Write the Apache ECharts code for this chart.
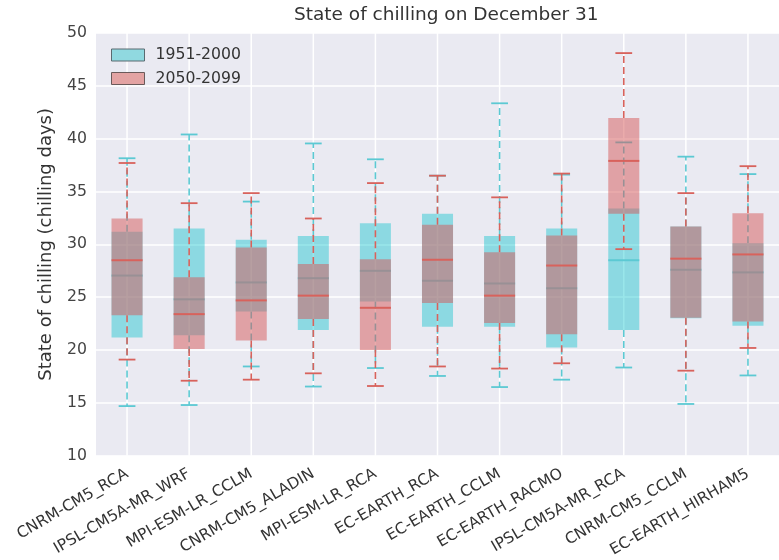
<!DOCTYPE html>
<html>
<head>
<meta charset="utf-8">
<script src="https://cdn.jsdelivr.net/npm/echarts@6/dist/echarts.min.js"></script>
<style>html,body{margin:0;padding:0;background:#fff;}#c{width:779px;height:560px;}</style>
</head>
<body>
<div id="c"></div>
<script>
const categories = ['CNRM-CM5_RCA','IPSL-CM5A-MR_WRF','MPI-ESM-LR_CCLM','CNRM-CM5_ALADIN','MPI-ESM-LR_RCA','EC-EARTH_RCA','EC-EARTH_CCLM','EC-EARTH_RACMO','IPSL-CM5A-MR_RCA','CNRM-CM5_CCLM','EC-EARTH_HIRHAM5'];
const yTicks = [10, 50, 5];
// [min, q1, median, q3, max]
const hist = [
  [14.7, 21.2, 27.05, 31.2, 38.15],
  [14.8, 21.4, 24.8, 31.5, 40.4],
  [18.45, 23.65, 26.4, 30.45, 34.05],
  [16.55, 21.9, 26.8, 30.8, 39.55],
  [18.3, 24.6, 27.5, 32.0, 38.05],
  [17.55, 22.2, 26.55, 32.9, 36.5],
  [16.5, 22.2, 26.3, 30.8, 43.35],
  [17.2, 20.25, 25.85, 31.5, 36.6],
  [18.35, 21.9, 28.5, 33.4, 39.65],
  [14.9, 23.0, 27.6, 31.7, 38.3],
  [17.6, 22.3, 27.35, 30.1, 36.65]
];
const future = [
  [19.1, 23.3, 28.5, 32.45, 37.7],
  [17.1, 20.1, 23.4, 26.9, 33.9],
  [17.2, 20.9, 24.7, 29.7, 34.85],
  [17.8, 22.95, 25.15, 28.15, 32.45],
  [16.6, 20.0, 24.0, 28.6, 35.8],
  [18.45, 24.45, 28.55, 31.85, 36.5],
  [18.25, 22.55, 25.15, 29.25, 34.45],
  [18.75, 21.5, 28.0, 30.85, 36.7],
  [29.55, 32.9, 37.9, 41.95, 48.1],
  [18.05, 23.05, 28.65, 31.7, 34.85],
  [20.2, 22.7, 29.05, 32.95, 37.4]
];

const FONT = 'DejaVu Sans';
const cyanFill = 'rgba(0,192,202,0.40)';
const cyanLine = '#5cc9d3';
const redFill = 'rgba(214,88,88,0.50)';
const redLine = '#d8625c';

function makeRender(fill, line) {
  return function (params, api) {
    const i = api.value(0);
    const mn = api.coord([i, api.value(1)]);
    const q1 = api.coord([i, api.value(2)]);
    const md = api.coord([i, api.value(3)]);
    const q3 = api.coord([i, api.value(4)]);
    const mx = api.coord([i, api.value(5)]);
    const band = api.size([1, 0])[0];
    const bw = band * 0.5, cw = band * 0.27;
    const x = mn[0];
    const dashed = {stroke: line, lineWidth: 1.6, lineDash: [7, 4]};
    const solid = {stroke: line, lineWidth: 1.8};
    return {
      type: 'group',
      children: [
        {type: 'rect', shape: {x: x - bw / 2, y: q3[1], width: bw, height: q1[1] - q3[1]}, style: {fill: fill}},
        {type: 'line', shape: {x1: x, y1: q3[1], x2: x, y2: mx[1]}, style: dashed},
        {type: 'line', shape: {x1: x, y1: q1[1], x2: x, y2: mn[1]}, style: dashed},
        {type: 'line', shape: {x1: x - cw / 2, y1: mx[1], x2: x + cw / 2, y2: mx[1]}, style: solid},
        {type: 'line', shape: {x1: x - cw / 2, y1: mn[1], x2: x + cw / 2, y2: mn[1]}, style: solid},
        {type: 'line', shape: {x1: x - bw / 2, y1: md[1], x2: x + bw / 2, y2: md[1]}, style: {stroke: line, lineWidth: 2}}
      ]
    };
  };
}

const chart = echarts.init(document.getElementById('c'));
chart.setOption({
  animation: false,
  backgroundColor: '#ffffff',
  title: {
    text: 'State of chilling on December 31',
    left: 289, top: 1,
    textStyle: {fontFamily: FONT, fontSize: 18.5, fontWeight: 'normal', color: '#333'}
  },
  legend: {
    left: 106, top: 42, orient: 'vertical',
    itemWidth: 33, itemHeight: 12, itemGap: 7.5,
    textStyle: {fontFamily: FONT, fontSize: 15.7, color: '#333', padding: [0, 0, 0, 6]},
    data: [
      {name: '1951-2000', icon: 'rect', itemStyle: {color: '#90d9e0', borderColor: '#5a6a70', borderWidth: 1}},
      {name: '2050-2099', icon: 'rect', itemStyle: {color: '#e3a3a3', borderColor: '#6a5a5a', borderWidth: 1}}
    ]
  },
  grid: {left: 96, top: 33, width: 690, height: 423, show: true, backgroundColor: '#eaeaf2', borderWidth: 0},
  xAxis: {
    type: 'category', data: categories,
    axisLine: {show: false}, axisTick: {show: false}, splitLine: {show: false},
    axisLabel: {rotate: 30, margin: 17, fontFamily: FONT, fontSize: 15.5, color: '#333', interval: 0}
  },
  yAxis: {
    type: 'value', min: yTicks[0], max: yTicks[1], interval: yTicks[2],
    name: 'State of chilling (chilling days)', nameLocation: 'middle', nameGap: 41,
    nameTextStyle: {fontFamily: FONT, fontSize: 18, color: '#333'},
    axisLine: {show: false}, axisTick: {show: false},
    axisLabel: {fontFamily: FONT, fontSize: 15.7, color: '#444', margin: 9},
    splitLine: {lineStyle: {color: '#ffffff', width: 1.5}}
  },
  series: [
    {
      type: 'custom', name: 'grid', z: 1, silent: true,
      data: categories.map((c, i) => [i]),
      encode: {x: 0},
      renderItem: function (params, api) {
        const x = api.coord([api.value(0), yTicks[0]])[0];
        const cs = params.coordSys;
        return {type: 'line', shape: {x1: x, y1: cs.y, x2: x, y2: cs.y + cs.height}, style: {stroke: '#ffffff', lineWidth: 1.5}};
      }
    },
    {
      type: 'custom', name: '1951-2000', z: 2,
      data: hist.map((d, i) => [i].concat(d)),
      encode: {x: 0, y: [1, 2, 3, 4, 5]},
      renderItem: makeRender(cyanFill, cyanLine)
    },
    {
      type: 'custom', name: '2050-2099', z: 3,
      data: future.map((d, i) => [i].concat(d)),
      encode: {x: 0, y: [1, 2, 3, 4, 5]},
      renderItem: makeRender(redFill, redLine)
    }
  ]
});
</script>
</body>
</html>
